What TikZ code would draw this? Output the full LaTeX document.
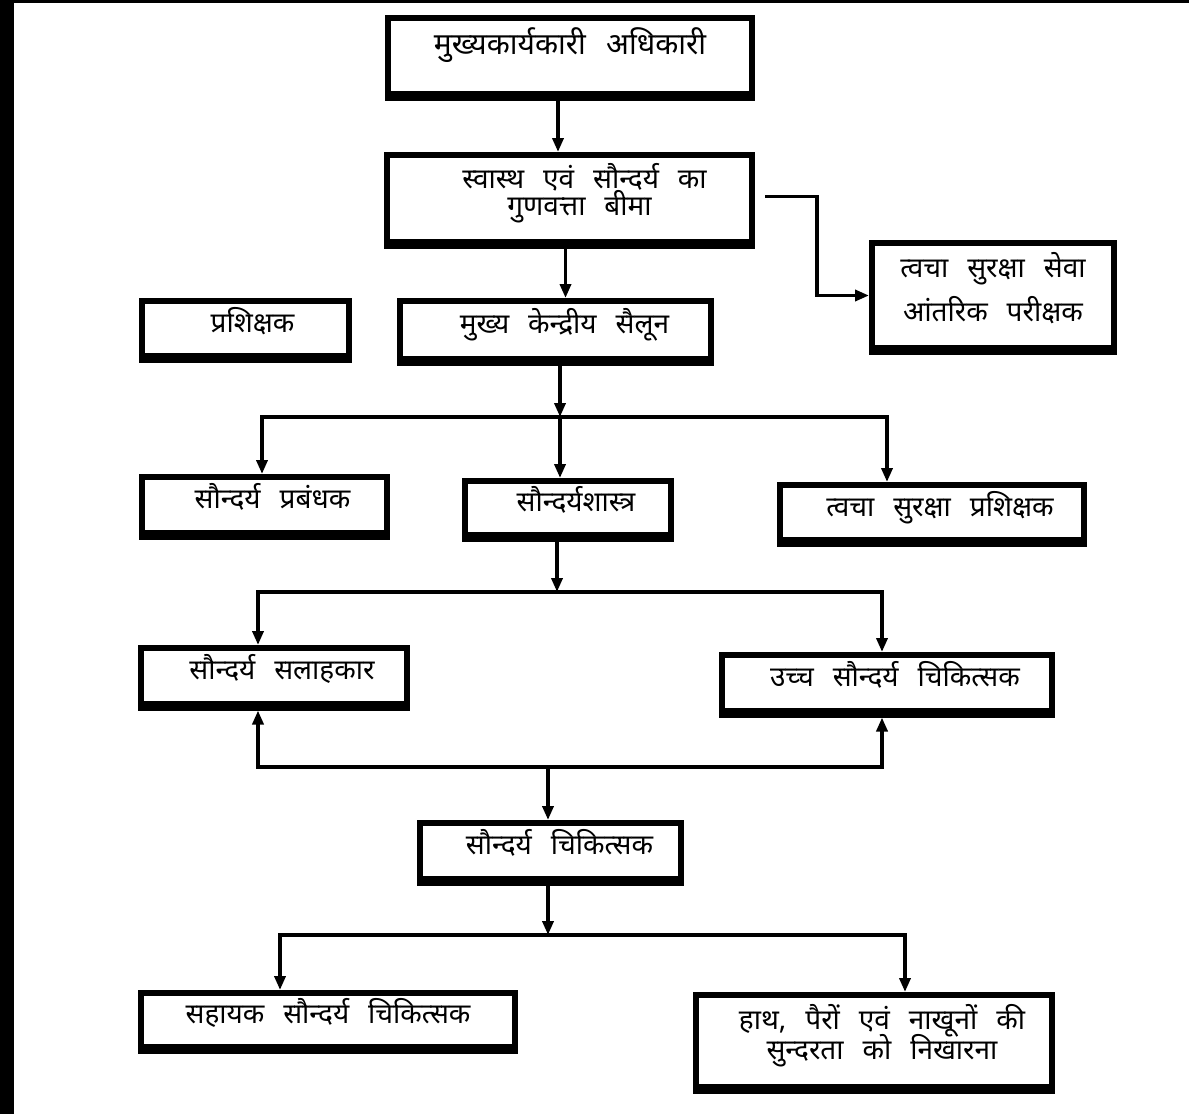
\documentclass[tikz,border=0pt]{standalone}
\usepackage{fontspec}
\usepackage{tikz}
\usetikzlibrary{arrows.meta, positioning}
\newfontfamily\hindi[Script=Devanagari, WordSpace=2.6]{Noto Sans}
\tikzset{
	org box/.style={
		draw,
		line width=6pt,
		fill=white,
		inner sep=0pt,
		align=center,
		text depth=18pt,
		font=\hindi\fontsize{28}{34}\selectfont,
	},
	link/.style={
		line width=3.5pt,
		-{Triangle[length=14pt,width=11pt]},
	},
	bar/.style={
		line width=3.5pt,
		line cap=rect,
	}
}

\begin{document}
\begin{tikzpicture}[x=1pt, y=-1pt]
	\useasboundingbox (0,0) rectangle (1189,1114);
	\fill[white] (0,0) rectangle (1189,1114);
	\fill[black] (0,0) rectangle (14,1114);
	\fill[black] (0,0) rectangle (1189,2.5);

	\node [org box, minimum width=364pt, minimum height=76pt, text depth=30pt, font=\hindi\fontsize{30}{34}\selectfont] (ceo) at (570,56) {मुख्यकार्यकारी अधिकारी};
	\node [org box, minimum width=365pt, minimum height=87pt] (qa) at (569.5,198.5) {\hspace*{30pt}स्वास्थ एवं सौन्दर्य का\\[-7pt] \hspace*{20pt}गुणवत्ता बीमा};
	\node [org box, minimum width=242pt, minimum height=105pt] (audit) at (993,295.5) {त्वचा सुरक्षा सेवा\\[10pt] आंतरिक परीक्षक};
	\node [org box, minimum width=207pt, minimum height=55pt] (trainer) at (245.5,328.5) {\hspace*{14pt}प्रशिक्षक};
	\node [org box, minimum width=311pt, minimum height=58pt] (salon) at (555.5,330) {\hspace*{18pt}मुख्य केन्द्रीय सैलून};
	\node [org box, minimum width=245pt, minimum height=56pt] (manager) at (264.5,505) {\hspace*{16pt}सौन्दर्य प्रबंधक};
	\node [org box, minimum width=206pt, minimum height=54pt] (aesth) at (568,508) {\hspace*{16pt}सौन्दर्यशास्त्र};
	\node [org box, minimum width=304pt, minimum height=55pt] (skintrainer) at (932,512.5) {\hspace*{16pt}त्वचा सुरक्षा प्रशिक्षक};
	\node [org box, minimum width=266pt, minimum height=56pt] (consult) at (274,676) {\hspace*{16pt}सौन्दर्य सलाहकार};
	\node [org box, minimum width=330pt, minimum height=56pt] (senior) at (887,683) {\hspace*{16pt}उच्च सौन्दर्य चिकित्सक};
	\node [org box, minimum width=261pt, minimum height=56pt] (therapist) at (550.5,851) {\hspace*{18pt}सौन्दर्य चिकित्सक};
	\node [org box, minimum width=374pt, minimum height=54pt] (assist) at (328,1020) {सहायक सौन्दर्य चिकित्सक};
	\node [org box, minimum width=356pt, minimum height=92pt] (hands) at (874,1041) {\hspace*{16pt}हाथ, पैरों एवं नाखूनों की\\[-4pt] \hspace*{16pt}सुन्दरता को निखारना};

	% heavier bottom edge of every box
	\foreach \n in {ceo, qa, audit, trainer, salon, manager, aesth, skintrainer, consult, senior, therapist, assist, hands}
		\draw [line width=4pt] ([yshift=-1.5pt]\n.south west) -- ([yshift=-1.5pt]\n.south east);

	% junctions
	\coordinate (j1) at (560,417);
	\coordinate (j1l) at (262,417);
	\coordinate (j1r) at (887,417);
	\coordinate (j2) at (557,592);
	\coordinate (j2l) at (258,592);
	\coordinate (j2r) at (882,592);
	\coordinate (j3) at (548,767);
	\coordinate (j3l) at (258,767);
	\coordinate (j3r) at (882,767);
	\coordinate (j4) at (548,935);
	\coordinate (j4l) at (280,935);
	\coordinate (j4r) at (905,935);

	\draw [link] ([xshift=-12pt]ceo.south) -- ([xshift=-12pt]ceo.south |- qa.north);
	\draw [link] ([xshift=-4pt]qa.south) -- ([xshift=-4pt]qa.south |- salon.north);
	\draw [link] ([xshift=10pt, yshift=2pt]qa.east) -- ++(52,0) |- (audit.west);

	\draw [link] (salon.south -| j1) -- (j1);
	\draw [bar] (j1l) -- (j1r);
	\draw [link] (j1l) -- (j1l |- manager.north);
	\draw [link] (j1) -- (j1 |- aesth.north);
	\draw [link] (j1r) -- (j1r |- skintrainer.north);

	\draw [link] (aesth.south -| j2) -- (j2);
	\draw [bar] (j2l) -- (j2r);
	\draw [link] (j2l) -- (j2l |- consult.north);
	\draw [link] (j2r) -- (j2r |- senior.north);

	\draw [bar] (j3l) -- (j3r);
	\draw [link, shorten >=3.5pt] (j3l) -- (j3l |- consult.south);
	\draw [link, shorten >=3.5pt] (j3r) -- (j3r |- senior.south);
	\draw [link] (j3) -- (j3 |- therapist.north);

	\draw [link] (therapist.south -| j4) -- (j4);
	\draw [bar] (j4l) -- (j4r);
	\draw [link] (j4l) -- (j4l |- assist.north);
	\draw [link] (j4r) -- (j4r |- hands.north);
\end{tikzpicture}
\end{document}
